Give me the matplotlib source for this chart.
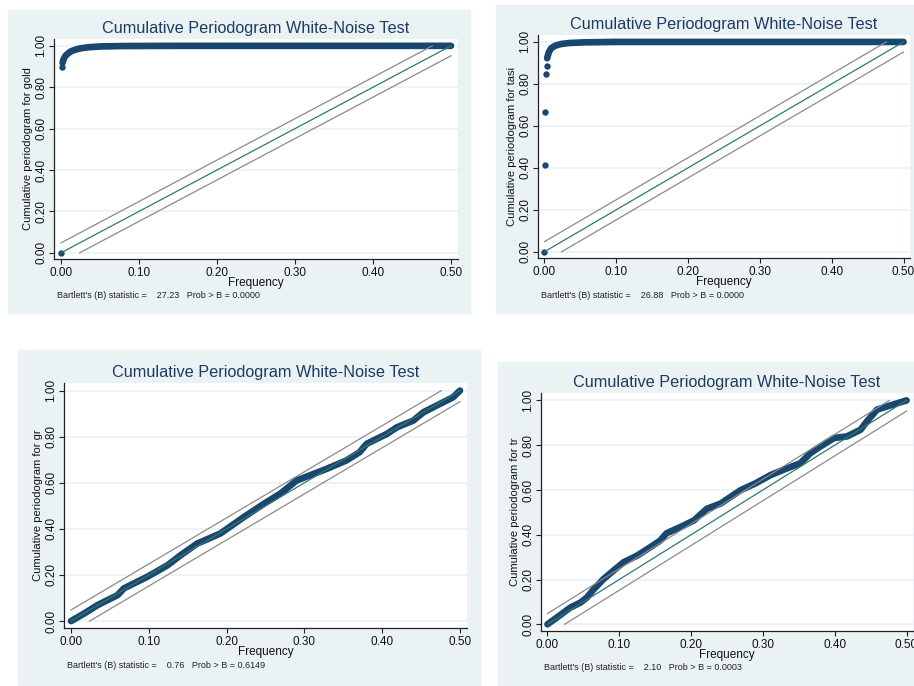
import matplotlib
matplotlib.use("Agg")
import matplotlib.pyplot as plt
from matplotlib.patches import Rectangle

plt.rcParams['font.family'] = ['Liberation Sans', 'DejaVu Sans']

W, H = 914, 686

# series: frequency, cumulative periodogram
gold_freq = [0.0, 0.001, 0.002, 0.003, 0.005, 0.008, 0.012, 0.018, 0.025, 0.035,
             0.05, 0.08, 0.15, 0.25, 0.35, 0.45, 0.5]
gold_cp = [0.0, 0.897, 0.918, 0.933, 0.948, 0.960, 0.972, 0.981, 0.988, 0.993,
           0.997, 0.999, 1.0, 1.0, 1.0, 1.0, 1.0]

tasi_freq = [0.0, 0.001, 0.0014, 0.0023, 0.0032, 0.0037, 0.006, 0.0093, 0.015,
             0.023, 0.035, 0.056, 0.1, 0.2, 0.3, 0.4, 0.5]
tasi_cp = [0.0, 0.414, 0.668, 0.846, 0.887, 0.922, 0.950, 0.970, 0.982,
           0.990, 0.995, 0.998, 1.0, 1.0, 1.0, 1.0, 1.0]

gr_freq = [0.0, 0.017, 0.034, 0.060, 0.068, 0.098, 0.124, 0.141, 0.162, 0.192,
           0.222, 0.248, 0.269, 0.290, 0.329, 0.354, 0.371, 0.380, 0.406, 0.419,
           0.440, 0.453, 0.474, 0.491, 0.5]
gr_cp = [0.0, 0.033, 0.069, 0.113, 0.142, 0.192, 0.242, 0.286, 0.336, 0.380,
         0.451, 0.509, 0.553, 0.610, 0.661, 0.697, 0.733, 0.769, 0.812, 0.841,
         0.870, 0.906, 0.942, 0.971, 1.0]

tr_freq = [0.0, 0.013, 0.032, 0.046, 0.055, 0.064, 0.078, 0.092, 0.106, 0.125,
           0.143, 0.157, 0.166, 0.185, 0.204, 0.222, 0.241, 0.269, 0.290, 0.311,
           0.334, 0.352, 0.366, 0.380, 0.399, 0.417, 0.436, 0.445, 0.459, 0.482, 0.5]
tr_cp = [0.0, 0.030, 0.075, 0.097, 0.120, 0.155, 0.202, 0.240, 0.277, 0.307,
         0.344, 0.374, 0.407, 0.434, 0.464, 0.516, 0.539, 0.599, 0.630, 0.667,
         0.697, 0.719, 0.764, 0.794, 0.832, 0.839, 0.869, 0.907, 0.959, 0.982, 1.0]

bartlett_b = [27.23, 26.88, 0.76, 2.10]
prob_b = [0.0000, 0.0000, 0.6149, 0.0003]
names = ["gold", "tasi", "gr", "tr"]
# index where the continuous run of points starts
dense_start = [2, 5, 0, 0]

band = 0.048
xticks = [0.0, 0.1, 0.2, 0.3, 0.4, 0.5]
yticks = [0.0, 0.2, 0.4, 0.6, 0.8, 1.0]

# pixel boxes: background (l, t, r, b) and plot region (l, t, r, b)
bg_boxes = [(8, 10, 470, 313), (496, 5, 914, 313), (18, 350, 480, 685), (498, 362, 914, 686)]
ax_boxes = [(54, 39, 458, 259), (538, 35, 910, 258), (64, 383, 467, 628), (541, 393, 913, 631)]

bg = '#eaf2f3'
navy = '#1a476f'
teal = '#2e7a6c'
grey = '#8a8a8a'

fig = plt.figure(figsize=(W / 100, H / 100), dpi=100)

series = [(gold_freq, gold_cp), (tasi_freq, tasi_cp), (gr_freq, gr_cp), (tr_freq, tr_cp)]

for i in range(4):
    l, t, r, b = bg_boxes[i]
    fig.add_artist(Rectangle((l / W, 1 - b / H), (r - l) / W, (b - t) / H,
                             transform=fig.transFigure, color=bg, zorder=-10))
    l, t, r, b = ax_boxes[i]
    aw, ah = r - l, b - t
    ax = fig.add_axes([l / W, 1 - b / H, aw / W, ah / H])
    ax.set_facecolor('white')
    ax.set_xlim(-0.009, 0.509)
    ax.set_ylim(-0.03, 1.033)

    for y in yticks:
        ax.axhline(y, color=bg, lw=1.2, zorder=0)

    f, cp = series[i]
    d = dense_start[i]
    ax.plot(f[d:], cp[d:], color=navy, lw=4.8, solid_capstyle='round',
            solid_joinstyle='round', zorder=2)
    if d > 0:
        ax.plot(f[:d], cp[:d], 'o', color=navy, ms=4.6, mew=0, zorder=2)

    ax.plot([0, 0.5], [0, 1], color=teal, lw=0.9, zorder=3)
    ax.plot([0, 0.5 - band / 2], [band, 1], color=grey, lw=0.9, zorder=3)
    ax.plot([band / 2, 0.5], [0, 1 - band], color=grey, lw=0.9, zorder=3)

    for s in ['top', 'right']:
        ax.spines[s].set_visible(False)
    for s in ['left', 'bottom']:
        ax.spines[s].set_color('#222222')
        ax.spines[s].set_linewidth(0.9)

    ax.set_xticks(xticks)
    ax.set_xticklabels(["%.2f" % v for v in xticks])
    ax.set_yticks(yticks)
    ax.set_yticklabels(["%.2f" % v for v in yticks], rotation=90, va='center')
    ax.tick_params(axis='both', length=3.5, width=0.8, color='#222222',
                   labelsize=8.5, labelcolor='#111111')
    ax.tick_params(axis='x', pad=2)
    ax.tick_params(axis='y', pad=1.5)

    ax.text(0.5, 1 + 10 / ah, "Cumulative Periodogram White-Noise Test",
            transform=ax.transAxes, ha='center', va='center',
            fontsize=11.7, color='#1e3a63')
    ax.text(0.5, -24 / ah, "Frequency", transform=ax.transAxes,
            ha='center', va='center', fontsize=8.5, color='#111111')
    ax.text(-26 / aw, 0.5, "Cumulative periodogram for " + names[i],
            transform=ax.transAxes, ha='center', va='center', rotation=90,
            fontsize=8, color='#111111')
    note = "Bartlett's (B) statistic =    %.2f   Prob > B = %.4f" % (bartlett_b[i], prob_b[i])
    ax.text(3 / aw, -37 / ah, note, transform=ax.transAxes,
            ha='left', va='center', fontsize=6.5, color='#222222')

fig.savefig("out.png", dpi=100)
